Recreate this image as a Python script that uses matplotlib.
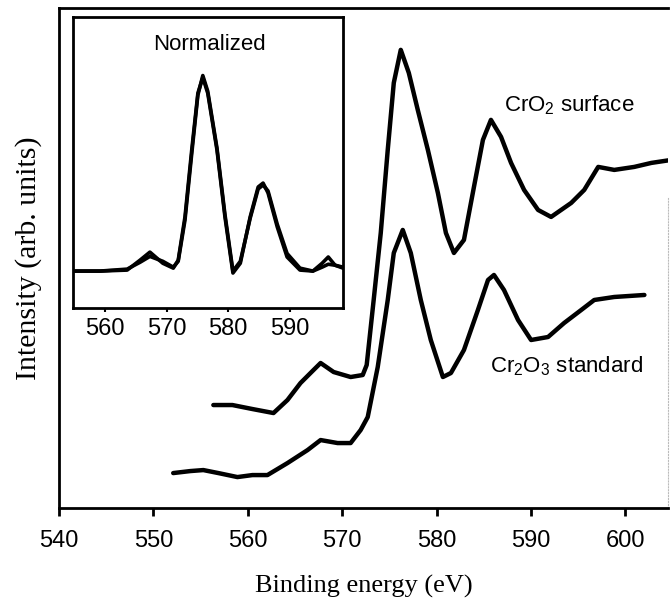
import matplotlib
matplotlib.use("Agg")
import matplotlib.pyplot as plt

# Cr 2p XPS spectra, raw counts in arbitrary units
cro2_energy = [556.35, 558.37, 560.49, 562.72, 564.20, 565.58, 566.96, 567.71, 569.09, 570.89,
               572.17, 572.59, 573.33, 574.08, 574.82, 575.46, 576.20, 577.05, 578.00, 579.07,
               580.13, 580.98, 581.83, 582.89, 583.95, 584.90, 585.75, 586.82, 587.88, 589.26,
               590.74, 592.12, 594.25, 595.63, 597.11, 598.81, 600.93, 602.74, 604.86]
cro2_intensity = [20.6, 20.6, 19.8, 19.0, 21.6, 25.0, 27.6, 29.0, 27.2, 26.2,
                  26.6, 28.6, 41.6, 55.0, 71.6, 85.0, 91.6, 87.0, 79.6, 71.6,
                  63.0, 55.0, 51.0, 53.6, 64.2, 73.6, 77.6, 74.2, 69.0, 63.6,
                  59.6, 58.2, 61.0, 63.6, 68.2, 67.6, 68.2, 69.0, 69.6]

cr2o3_energy = [552.10, 553.91, 555.29, 556.88, 558.90, 560.49, 562.08, 564.20, 566.33, 567.71,
                569.51, 570.89, 571.95, 572.70, 573.76, 574.82, 575.46, 576.41, 577.26, 578.32,
                579.38, 580.66, 581.51, 582.89, 584.37, 585.44, 586.07, 587.13, 588.62, 590.00,
                591.80, 593.50, 595.31, 596.69, 598.81, 602.00]
cr2o3_intensity = [7.0, 7.4, 7.6, 7.0, 6.2, 6.6, 6.6, 9.0, 11.6, 13.6,
                   13.0, 13.0, 15.6, 18.2, 28.2, 41.6, 51.0, 55.6, 51.0, 41.6,
                   33.6, 26.2, 27.0, 31.6, 39.6, 45.6, 46.6, 43.6, 37.6, 33.6,
                   34.2, 37.0, 39.6, 41.6, 42.2, 42.6]

# background-subtracted, peak-normalized versions for the inset
norm_energy = [555.1, 559.2, 563.6, 565.7, 567.3, 569.4, 571.1, 571.9, 573.0, 574.1,
               575.1, 575.9, 576.7, 578.2, 579.5, 580.8, 582.0, 583.6, 584.9, 585.7,
               586.5, 588.0, 589.6, 591.7, 593.8, 595.3, 596.3, 597.4, 598.7]
norm_cr2o3 = [0.0, 0.0, 0.005, 0.056, 0.097, 0.04, 0.015, 0.056, 0.277, 0.62,
              0.91, 0.99, 0.91, 0.62, 0.277, -0.01, 0.04, 0.277, 0.43, 0.45,
              0.40, 0.226, 0.072, 0.005, 0.0, 0.04, 0.072, 0.03, 0.015]
norm_cro2 = [0.0, 0.0, 0.01, 0.045, 0.075, 0.05, 0.02, 0.05, 0.26, 0.60,
             0.90, 1.0, 0.92, 0.63, 0.29, 0.0, 0.05, 0.27, 0.42, 0.44,
             0.41, 0.24, 0.09, 0.015, 0.0, 0.02, 0.035, 0.03, 0.02]

main_ticks = [540, 550, 560, 570, 580, 590, 600]
inset_ticks = [560, 570, 580, 590]

plt.rcParams['font.family'] = ['Liberation Sans', 'DejaVu Sans']
plt.rcParams['mathtext.fontset'] = 'custom'
plt.rcParams['mathtext.rm'] = 'Liberation Sans'


def plot():
    fig = plt.figure(figsize=(6.7, 6.02), dpi=100)
    ax = fig.add_axes([0.088, 0.156, 0.909, 0.831])

    ax.plot(cro2_energy, cro2_intensity, color='black', lw=3.2,
            solid_joinstyle='round', solid_capstyle='round')
    ax.plot(cr2o3_energy, cr2o3_intensity, color='black', lw=3.2,
            solid_joinstyle='round', solid_capstyle='round')

    ax.set_xlim(540, 604.5)
    ax.set_ylim(0, 100)
    ax.set_xticks(main_ticks)
    ax.set_yticks([])
    ax.tick_params(axis='x', direction='out', length=6, width=2,
                   labelsize=17, pad=10)
    for side in ['left', 'bottom', 'top']:
        ax.spines[side].set_linewidth(2)
    ax.spines['right'].set_color('#bbbbbb')
    ax.spines['right'].set_linewidth(0.8)
    ax.spines['right'].set_linestyle(':')
    ax.spines['right'].set_bounds(0, 62)

    ax.set_xlabel('Binding energy (eV)', family='Liberation Serif',
                  fontsize=19, labelpad=16)
    ax.set_ylabel('Intensity (arb. units)', family='Liberation Serif',
                  fontsize=21.5, labelpad=12)

    ax.text(594.0, 80.6, r'CrO$_\mathrm{2}$ surface', fontsize=16,
            ha='center', va='center')
    ax.text(593.8, 28.4, r'Cr$_\mathrm{2}$O$_\mathrm{3}$ standard', fontsize=16,
            ha='center', va='center')

    # inset with normalized spectra
    ins = fig.add_axes([0.109, 0.488, 0.403, 0.484])
    ins.plot(norm_energy, norm_cr2o3, color='black', lw=2.6,
             solid_joinstyle='round')
    ins.plot(norm_energy, norm_cro2, color='black', lw=2.6,
             solid_joinstyle='round')
    ins.set_xlim(554.8, 598.7)
    ins.set_ylim(-0.19, 1.30)
    ins.set_xticks(inset_ticks)
    ins.set_yticks([])
    ins.tick_params(axis='x', direction='out', length=3, width=1.5,
                    labelsize=17, pad=4)
    for side in ins.spines.values():
        side.set_linewidth(2)
    ins.text(0.507, 0.904, 'Normalized', transform=ins.transAxes,
             fontsize=16, ha='center', va='center')

    fig.savefig('out.png', dpi=100)


def main():
    plot()


if __name__ == '__main__':
    main()
